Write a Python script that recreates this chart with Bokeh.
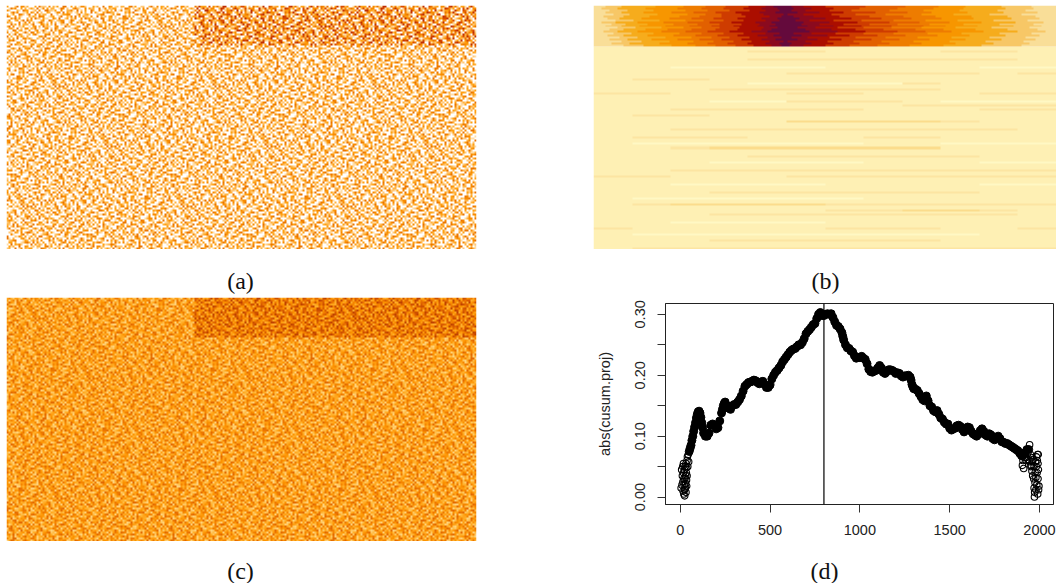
import numpy as np
from bokeh.core.properties import value
from bokeh.embed import file_html
from bokeh.resources import INLINE
from bokeh.layouts import column, row
from bokeh.models import FixedTicker, LinearColorMapper, Range1d, Span
from bokeh.plotting import figure

# ---- panels (a) and (c): hand-typed estimate of the grain in a small patch of the
# picture (digits 0-9). The individual cells of the reference cannot be read, so this
# sample is repeated over the panel; only the texture is approximate.
noise_sample = [
    "70315928846102739555081647329901736248850317462291087345166208947315520694183762",
    "24968017362575190483726610498253179640382756019348265770142986350471829306651748",
    "85120643977334628019955470281366840915272196338405716092483557129640873125904361",
    "13695802447186093512760348829175504628163390741275986634012758493110682759344026",
    "60472198535920817466339125047788210593467421056893324718900536227948165073692581",
    "97208364111647529880046713592264839071755380291646078152339847160025938417568203",
    "31859470226083955174422860931570648318296715403982276140658893712465049321870694",
    "48026715939571102683097435688124970356021864753190485927316604582117396840259731",
    "75613092480826347951518260479305812749663052981477302865149026731598402716365840",
    "02947381666159230874736091254482675013928840367516294018835763024971581263409557",
    "69380154723407816295642378100956324781059236148807452691377210985346026815743929",
    "16742905388265914037805196247331458602794617053289160743528696140387952241067385",
    "53098267141730682495219074865526013997382106845721639508417342768950613478221906",
    "82416703595098375164460832791258946100537762498136052790834611527392084659317540",
    "37059186224617940328793541600872315449608213957684017325692073885162947308416275",
    "90621847536332107859024168375593687021145890326471728965013483160725849632951078",
    "46173920885751264093680742915036428971563704892135569017324688291054373816026549",
    "28794305162089613547312958604482710635989124067383245760981176403529168750432913",
    "65030871492644720381589136072945361807024658713990182436795220618973456048127396",
    "14928657303178056924760413892571806229534470138625097841630359482016765292803748",
    "79312040865492187360536829714066235918474301965728841190273656098423171580965423",
    "30685294177806134529982047361513794026583612847090356428915470162837659204138756",
    "58241769036320965817143690278825019376405198263741067335849928514067302691847310",
    "96407135582741309268605718942330168542973860412759184026173345690812925437608169",
    "21850346794015682397241075386969427103658274390561728493602180947356611842037925",
    "47163992058836120474359862103756980214735906648217350894269513084722691035486170",
    "83529014667291745308176234950418263579021483367905142687350926741108594362017843",
    "05746281339560478192430715862987134056291748502613698027413562890347215689120476",
    "62938417105084236971857109346420758961332609471825046739185403628194507726314589",
    "19074653824617095328260481573694812037456985120346792518036279451860342917685024",
]
noise_row_shift = [0, 27, 53, 11, 38]   # shift of each repeat of the sample
change_rows, change_cols = 20, 94       # extent of the changed segment, in cells
a_shift = 2                             # level shift inside the segment, panel (a)
c_shift = 3                             # level shift inside the segment, panel (c)

palette_a = ["#FFFFFF", "#FFFFFF", "#FFFFFF", "#FFFFFF", "#FFDDA8", "#FFC878", "#FFB340",
             "#FFA010", "#F78A00", "#EA7400", "#D84A00", "#C02E00"]
palette_c = ["#FFD47E", "#FFC862", "#FFBC44", "#FFB02C", "#FFA61C", "#FF9C0E", "#FB9200",
             "#F48400", "#EC7600", "#E26800", "#D85A00", "#CC4E00", "#BE4000"]

# ---- panel (b), top band: for each row, the columns where the level steps
# up (2 to B) and back down (B to 2)
band_start_level = 2
band_level_steps = [1] * 9 + [-1] * 9
band_width = 463
band_edges = [
    [12, 28, 62, 90, 112, 132, 155, 172, 180, 198, 210, 232, 272, 312, 345, 372, 408, 438],
    [8, 24, 52, 84, 108, 130, 150, 168, 184, 200, 218, 240, 266, 304, 340, 370, 412, 440],
    [16, 34, 60, 92, 114, 136, 156, 172, 186, 198, 212, 236, 258, 296, 330, 366, 404, 432],
    [12, 28, 50, 78, 100, 122, 142, 166, 182, 204, 226, 250, 282, 314, 338, 374, 410, 444],
    [20, 36, 64, 94, 112, 128, 148, 170, 190, 194, 210, 238, 262, 292, 328, 360, 396, 428],
    [10, 30, 56, 86, 106, 128, 152, 176, 188, 200, 220, 246, 276, 310, 342, 378, 414, 442],
    [14, 26, 48, 76, 98, 120, 144, 168, 184, 206, 232, 258, 288, 318, 348, 380, 418, 446],
    [22, 40, 66, 92, 110, 130, 150, 172, 186, 202, 216, 240, 268, 300, 332, 364, 400, 434],
    [8, 22, 44, 70, 94, 116, 138, 162, 178, 210, 236, 264, 296, 326, 356, 388, 422, 450],
    [18, 32, 54, 80, 104, 126, 148, 166, 182, 208, 226, 250, 276, 304, 336, 370, 406, 440],
    [12, 28, 46, 72, 96, 118, 140, 164, 176, 214, 240, 268, 298, 330, 352, 384, 420, 448],
    [24, 42, 68, 90, 108, 126, 146, 170, 184, 204, 222, 244, 270, 298, 328, 362, 398, 436],
    [16, 30, 52, 74, 98, 122, 144, 168, 178, 212, 238, 262, 290, 322, 350, 382, 414, 444],
    [10, 24, 44, 68, 92, 114, 136, 158, 174, 216, 244, 272, 304, 332, 358, 390, 424, 452],
    [20, 38, 60, 86, 108, 130, 150, 172, 186, 200, 218, 242, 270, 300, 334, 368, 406, 438],
    [14, 30, 54, 80, 102, 124, 144, 164, 180, 208, 234, 256, 284, 312, 344, 376, 412, 446],
    [26, 44, 72, 98, 118, 136, 156, 174, 188, 198, 214, 236, 262, 292, 324, 358, 396, 432],
    [16, 34, 58, 84, 106, 128, 148, 168, 182, 204, 224, 248, 278, 306, 336, 372, 408, 442],
    [28, 48, 76, 100, 120, 140, 158, 176, 190, 194, 212, 234, 260, 288, 320, 356, 392, 430],
    [18, 36, 66, 94, 114, 134, 154, 172, 186, 198, 218, 240, 266, 296, 328, 362, 400, 436],
    [30, 50, 78, 102, 122, 142, 160, 178, 188, 196, 210, 232, 256, 284, 316, 350, 388, 428],
]
palette_b = ["#FFF9C6", "#FEF1B4", "#F9DE98", "#F7C766", "#F6AC1C", "#F79600", "#EE7C00",
             "#E26000", "#CE3C00", "#AB0E00", "#8B0A1E", "#640A3C"]

# lower part of (b): rows that differ from the plain cream level "1"
lower_streaks = {
    2: "111122111221", 6: "111122222221", 10: "110000111100", 13: "111112222212",
    16: "122111111111", 18: "111100002111", 21: "111222222111", 23: "221112211122",
    27: "111002221000", 29: "111111112222", 31: "112222211122", 34: "122111111111",
    37: "111113333211", 41: "112222222221", 45: "122211122111", 48: "100000011000",
    50: "112333333111", 54: "111122222211", 57: "111000011100", 61: "112222222222",
    64: "221112222222", 68: "110000111100", 72: "111222222211", 75: "100000011111",
    78: "123333222222", 81: "111111223321", 83: "111222222221", 87: "110000111111",
    90: "211111222112", 93: "100000000011", 96: "111222222111", 100: "122222222222",
}
lower_row_count = 101
palette_lower = ["#FFF8C4", "#FEF0B4", "#FCE5A2", "#FBDC8C"]

# ---- panel (d): values
curve_x = list(range(50, 1950, 10))
curve_y = [
    .075, .085, .100, .115, .130, .140, .138, .122, .105, .100, .100, .105, .118, .120, .118, .112,
    .114, .125, .138, .150, .156, .150, .146, .144, .150, .152, .152, .156, .160, .166, .174, .182,
    .185, .188, .189, .190, .192, .191, .188, .186, .189, .190, .185, .180, .180, .184, .194, .200,
    .205, .208, .212, .216, .222, .226, .230, .234, .238, .241, .243, .244, .247, .250, .250, .254,
    .260, .268, .272, .275, .279, .283, .285, .293, .300, .303, .298, .298, .300, .301, .300, .301,
    .295, .288, .282, .280, .276, .270, .258, .250, .245, .244, .240, .238, .232, .228, .229, .229,
    .231, .228, .226, .219, .210, .206, .205, .207, .208, .212, .216, .212, .205, .203, .206, .209,
    .209, .208, .206, .203, .204, .203, .199, .197, .199, .199, .200, .197, .185, .178, .177, .175,
    .170, .165, .160, .158, .166, .158, .150, .148, .142, .140, .142, .136, .130, .128, .123, .120,
    .120, .113, .110, .112, .113, .117, .118, .116, .111, .107, .111, .115, .114, .108, .104, .102,
    .100, .103, .109, .112, .108, .102, .100, .104, .102, .096, .094, .098, .100, .096, .091, .090,
    .088, .088, .086, .084, .082, .080, .078, .076, .072, .068, .070, .073, .078, .078,
]
steep_x = [55, 65, 75, 85, 95, 105, 115, 125, 235, 245, 905, 1285, 1295]
steep_y = [.080, .093, .108, .122, .136, .141, .131, .114, .144, .154, .264, .192, .181]
start_x = [5, 8, 10, 12, 14, 15, 16, 18, 18, 20, 20, 22, 24, 25, 25, 26, 28, 28, 30, 30, 32, 32,
           34, 35, 36, 36, 38, 38, 40, 42, 45, 47]
start_y = [.015, .045, .020, .035, .050, .025, .010, .040, .055, .030, .005, .020, .045, .012, .002,
           .030, .050, .015, .035, .022, .055, .008, .040, .028, .048, .018, .060, .035, .066, .050,
           .070, .058]
end_x = [1905, 1908, 1912, 1925, 1935, 1945, 1950, 1952, 1955, 1958, 1960, 1962, 1965, 1968, 1970,
         1970, 1972, 1973, 1975, 1976, 1978, 1980, 1980, 1982, 1984, 1985, 1987, 1988, 1990, 1992,
         1992, 1994, 1995, 1997, 1993, 1990, 1915, 1925, 1935, 1945, 1955]
end_y = [.052, .060, .047, .065, .072, .086, .070, .050, .065, .043, .058, .035, .062, .030, .050,
         .015, .000, .008, .024, .040, .058, .032, .012, .050, .066, .020, .040, .060, .070, .030,
         .055, .045, .012, .018, .070, .005, .065, .060, .062, .058, .052]
change_point = 800
x_ticks = [0, 500, 1000, 1500, 2000]
y_ticks = [0.0, 0.05, 0.10, 0.15, 0.20, 0.25, 0.30]
y_tick_labels = {"0": "0.00", "0.05": "", "0.1": "0.10", "0.15": "", "0.2": "0.20", "0.25": "", "0.3": "0.30"}
captions = ["(a)", "(b)", "(c)", "(d)"]
y_axis_title = "abs(cusum.proj)"

CAP_FONT = "Liberation Serif"
TICK_FONT = "Liberation Sans"


def bare(width, height, right, xr, yr):
    p = figure(width=width, height=height, output_backend="svg", toolbar_location=None,
               x_range=Range1d(*xr), y_range=Range1d(*yr), min_border_left=0, min_border_top=0,
               min_border_right=right, min_border_bottom=0, frame_align=False)
    p.axis.visible = False
    p.grid.visible = False
    p.outline_line_color = None
    return p


def caption(width, height, text, x, y):
    p = bare(width, height, 0, (0, width), (0, height))
    p.text(x=[x], y=[y], text=[text], text_font=value(CAP_FONT), text_font_size="24px",
           text_color="#111111", text_align="center", text_baseline="middle")
    return p


def noise_panel(shift, palette, roll):
    sample = np.array([[int(c) for c in r] for r in noise_sample])
    strips = [np.roll(sample, s + roll, axis=1) for s in noise_row_shift]
    cells = np.tile(np.vstack(strips), (1, 3))[:122, :235].astype(float)
    cells[:change_rows, change_cols:] += shift
    mapper = LinearColorMapper(palette=palette, low=-0.5, high=len(palette) - 0.5)
    return np.flipud(np.repeat(np.repeat(cells, 2, axis=0), 2, axis=1)), mapper


# (a)
pa = bare(587, 244, 117, (0, 470), (0, 244))
img, m = noise_panel(a_shift, palette_a, 0)
pa.image(image=[img], x=0, y=0, dw=470, dh=244, color_mapper=m)
cap_a = caption(587, 48, captions[0], 234, 17)

# (c)
pc = bare(587, 244, 117, (0, 470), (0, 244))
img, m = noise_panel(c_shift, palette_c, 17)
pc.image(image=[img], x=0, y=0, dw=470, dh=244, color_mapper=m)
cap_c = caption(587, 42, captions[2], 234, 13)

# (b)
pb = bare(463, 244, 0, (0, 463), (0, 244))
band = np.zeros((len(band_edges), band_width))
for r, edges in enumerate(band_edges):
    band[r, :] = band_start_level
    for e, step in zip(edges, band_level_steps):
        band[r, e:] += step
band = np.flipud(band)
lower = np.array([[int(c) for c in lower_streaks.get(i, "1" * 12)] for i in range(lower_row_count)], dtype=float)
mb = LinearColorMapper(palette=palette_b, low=-0.5, high=len(palette_b) - 0.5)
ml = LinearColorMapper(palette=palette_lower, low=-0.5, high=len(palette_lower) - 0.5)
pb.image(image=[np.flipud(lower)], x=0, y=0, dw=463, dh=203, color_mapper=ml)
pb.image(image=[band], x=0, y=203, dw=463, dh=41, color_mapper=mb)
cap_b = caption(463, 48, captions[1], 232, 17)

# (d)
pd_ = figure(width=463, height=244, output_backend="svg", toolbar_location=None,
             x_range=Range1d(-82, 2078), y_range=Range1d(-0.0122, 0.3178), frame_align=False,
             min_border_left=72, min_border_right=3, min_border_top=6, min_border_bottom=37)
pd_.grid.visible = False
pd_.outline_line_color = "#222222"
pd_.outline_line_width = 1
pd_.scatter(start_x + end_x, start_y + end_y, size=6.5, fill_color=None, line_color="#000000", line_width=1.1)
pd_.scatter(curve_x + steep_x, curve_y + steep_y, size=8, fill_color="#000000", line_color="#000000", line_width=1)
pd_.add_layout(Span(location=change_point, dimension="height", line_color="#000000", line_width=1.2))
pd_.xaxis.ticker = FixedTicker(ticks=x_ticks)
pd_.yaxis.ticker = FixedTicker(ticks=y_ticks)
pd_.yaxis.major_label_overrides = {float(k): v for k, v in y_tick_labels.items()}
pd_.yaxis.major_label_orientation = "vertical"
pd_.yaxis.axis_label = y_axis_title
for ax in (pd_.xaxis[0], pd_.yaxis[0]):
    ax.major_tick_out = 8
    ax.major_tick_in = 0
    ax.minor_tick_line_color = None
    ax.major_tick_line_color = "#333333"
    ax.axis_line_color = "#222222"
    ax.major_label_text_font = TICK_FONT
    ax.major_label_text_font_size = "14.5px"
    ax.major_label_text_color = "#222222"
    ax.major_label_standoff = 12
pd_.yaxis.axis_label_text_font = TICK_FONT
pd_.yaxis.axis_label_text_font_size = "14.5px"
pd_.yaxis.axis_label_text_font_style = "normal"
pd_.yaxis.axis_label_text_color = "#222222"
pd_.yaxis.axis_label_standoff = 20
cap_d = caption(463, 42, captions[3], 231, 13)

layout = row(column(pa, cap_a, pc, cap_c, spacing=0), column(pb, cap_b, pd_, cap_d, spacing=0),
             spacing=0, margin=(5, 0, 0, 6))
open("out.html", "w").write(file_html(layout, INLINE))
